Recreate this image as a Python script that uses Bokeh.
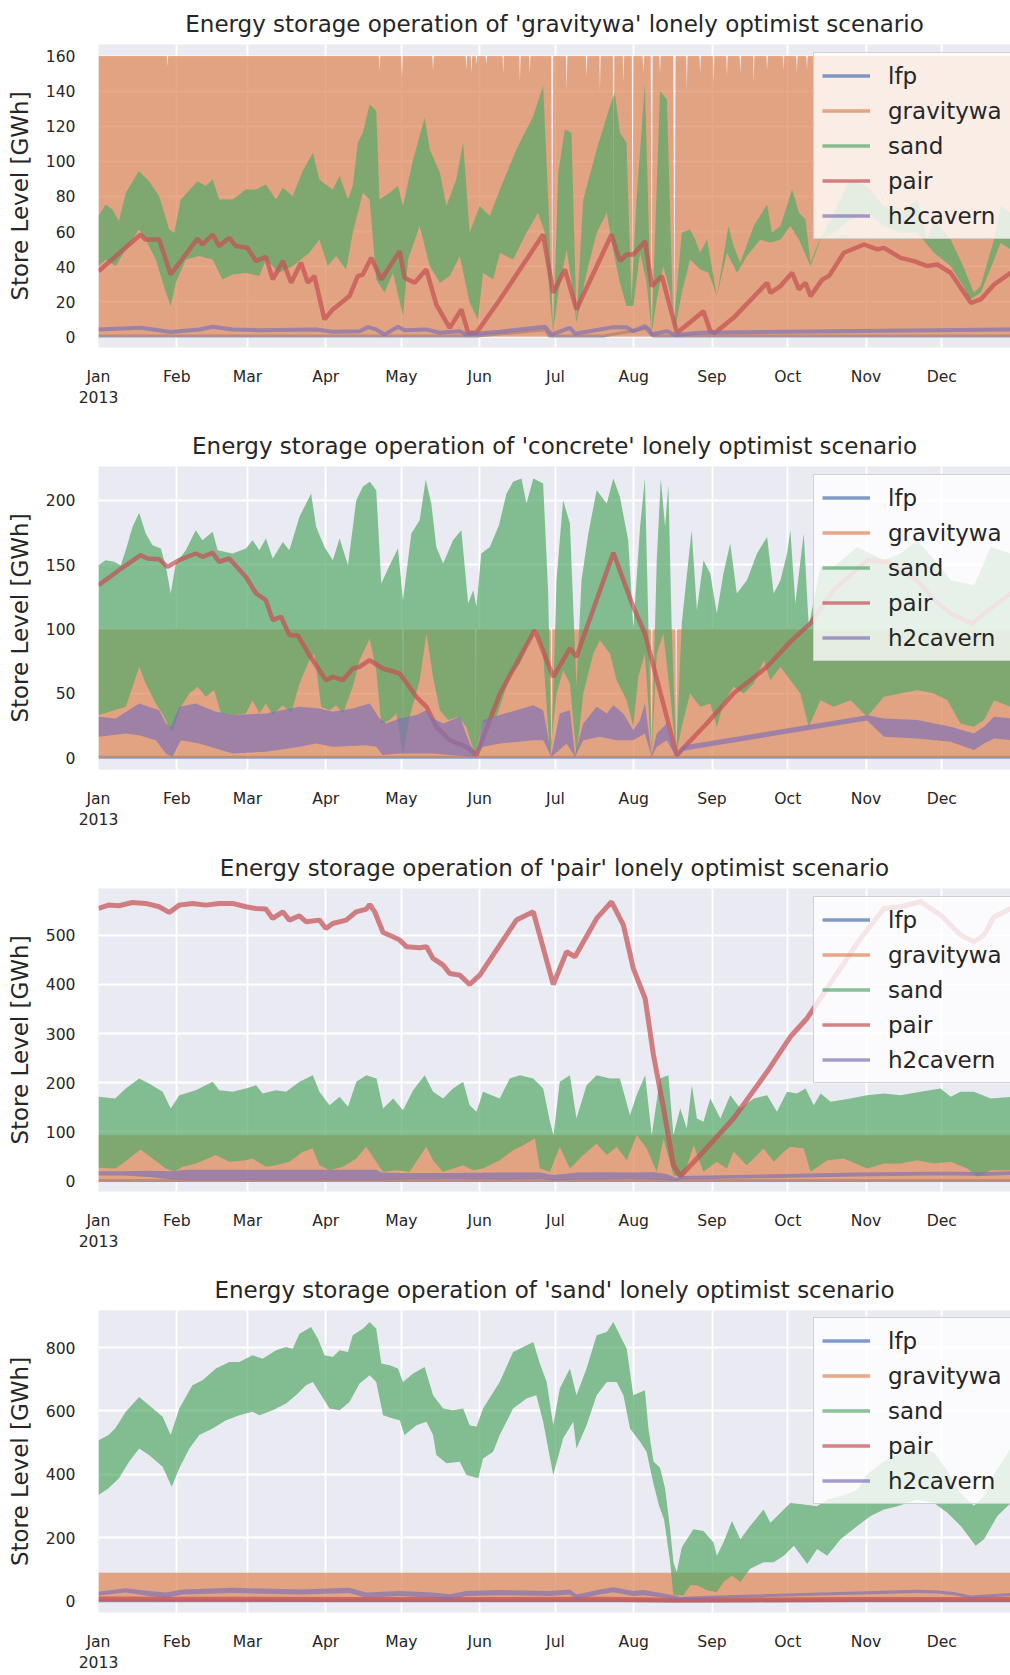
import numpy as np
import pandas as pd
from bokeh.plotting import figure
from bokeh.layouts import column
from bokeh.models import Range1d, FixedTicker, Legend, LegendItem
from bokeh.embed import file_html
from bokeh.resources import INLINE

# ---------------- data (days since 2013-01-01, values in GWh) ----------------
SERIES = ["lfp", "gravitywa", "sand", "pair", "h2cavern"]
COLORS = {"lfp": "#4C72B0", "gravitywa": "#DD8452", "sand": "#55A868",
          "pair": "#C44E52", "h2cavern": "#8172B3"}
MONTH_LABELS = ["Jan\n2013", "Feb", "Mar", "Apr", "May", "Jun", "Jul", "Aug",
                "Sep", "Oct", "Nov", "Dec"]
MONTH_STARTS = ["2013-01-01", "2013-02-01", "2013-03-01", "2013-04-01", "2013-05-01",
                "2013-06-01", "2013-07-01", "2013-08-01", "2013-09-01", "2013-10-01",
                "2013-11-01", "2013-12-01"]
TITLES = ["Energy storage operation of 'gravitywa' lonely optimist scenario",
          "Energy storage operation of 'concrete' lonely optimist scenario",
          "Energy storage operation of 'pair' lonely optimist scenario",
          "Energy storage operation of 'sand' lonely optimist scenario"]
YTICKS = [[0, 20, 40, 60, 80, 100, 120, 140, 160],
          [0, 50, 100, 150, 200],
          [0, 100, 200, 300, 400, 500],
          [0, 200, 400, 600, 800]]
YRANGES = [(-6.1, 166.6), (-9.1, 226.4), (-21.4, 595.0), (-36.8, 917.0)]
VIEW_DAYS = [0.0, 361.2]

# ---- panel 1: 'gravitywa'
lfp1_d = [0, 150, 177, 178.5, 200, 218, 219.5, 361.3]
lfp1_v = [0.5, 0.5, 4, 0.5, 0.5, 5, 0.5, 0.5]
gw1_hi_d = [0, 27.0, 27.3, 27.6, 111.0, 111.3, 111.6, 119.9, 120.2, 120.5, 132.2, 132.5, 132.8,
            145.4, 145.7, 146.0, 147.4, 147.7, 148.0, 149.4, 149.7, 150.0, 153.3, 153.6, 153.9,
            160.0, 160.3, 160.6, 166.6, 166.9, 167.2, 170.5, 170.8, 171.1, 179.3, 179.7, 180.1,
            185.1, 185.4, 185.7, 193.0, 193.3, 193.6, 198.3, 198.6, 198.9, 203.7, 204.0, 204.3,
            207.6, 207.9, 208.2, 211.2, 211.5, 211.8, 215.5, 215.8, 216.1, 218.7, 219.1, 219.5,
            222.1, 222.4, 222.7, 227.6, 228.1, 228.6, 232.7, 233.0, 233.3, 238.0, 238.3, 238.6,
            243.3, 243.6, 243.9, 248.6, 248.9, 249.2, 253.9, 254.2, 254.5, 259.2, 259.5, 259.8,
            264.5, 264.8, 265.1, 271.0, 271.3, 271.6, 276.3, 276.6, 276.9, 280.3, 280.6, 280.9, 361.3]
gw1_hi_v = [160, 160, 154, 160, 160, 151, 160, 160, 148, 160, 160, 151, 160,
            160, 152, 160, 160, 150, 160, 160, 155, 160, 160, 155, 160,
            160, 150, 160, 160, 145, 160, 160, 150, 160, 160, 5, 160,
            160, 140, 160, 160, 148, 160, 160, 140, 160, 160, 40, 160,
            160, 145, 160, 160, 25, 160, 160, 150, 160, 160, 3, 160,
            160, 150, 160, 160, 2, 160, 160, 140, 160, 160, 150, 160,
            160, 145, 160, 160, 148, 160, 160, 150, 160, 160, 145, 160,
            160, 152, 160, 160, 152, 160, 160, 150, 160, 160, 152, 160, 160]
gw1_lo_d = [0, 361.3]
gw1_lo_v = [0, 0]
sand1_hi_d = [0, 2.8, 5.5, 8.1, 10.8, 16, 20, 24, 28, 30, 32.6, 39.2, 42.5, 45.2, 47.8, 53.1, 58.4,
              62.4, 66.3, 70.3, 73, 76.9, 80.9, 84.9, 87.5, 90.8, 92.8, 95.5, 98.8, 100.7, 102.7,
              104.7, 107.4, 110, 111.3, 115.3, 118.6, 120.6, 124.6, 129.2, 131.2, 135.2, 137.8,
              141.7, 144.4, 147, 151, 155, 159, 165.5, 172.2, 176.1, 178.1, 180.1, 182.1, 184.7,
              187.3, 189.3, 192, 197.3, 202.6, 204.5, 206.5, 209.1, 211.1, 213.1, 216.4, 219.1,
              222.4, 225.1, 227.7, 231, 234.3, 236.3, 238.3, 241, 244.9, 249.5, 251.5, 254.2,
              259.5, 264.8, 266.7, 270.1, 274.7, 277.4, 280, 282, 284.6, 291.2, 297.8, 304.4,
              311, 317.6, 324.3, 328.2, 330.9, 337.5, 342.4, 346.7, 349.4, 354.7, 357.3, 361.3]
sand1_hi_v = [68.8, 75.4, 72.6, 65.9, 82.1, 94.5, 88.7, 80.2, 61.2, 59.3, 78.3, 88.7, 85.9, 89.7,
              78.3, 78.3, 84, 84, 86.8, 78.3, 85, 80.2, 94.5, 104.9, 89.7, 85.9, 84, 91.6, 78.3,
              85.9, 110.6, 116.3, 132.5, 128.7, 78.3, 82.1, 85.9, 74.5, 101.1, 124.9, 106.8, 93.5,
              74.5, 89.7, 110.6, 59.3, 74.5, 68.8, 84, 106.8, 125.8, 142.9, 78.3, 2.3, 93.5, 118.2,
              116.3, 9.9, 78.3, 106.8, 131.6, 139.1, 116.3, 110.6, 21.3, 78.3, 143.9, 2.3, 140.1,
              135.3, 4.2, 59.3, 61.2, 55.5, 47.9, 55.5, 23.2, 63.1, 51.7, 42.2, 63.1, 75.4, 59.3,
              63.1, 84, 70.7, 66.9, 42.2, 51.7, 70.7, 89.7, 85.9, 74.5, 70.7, 78.3, 55.5, 66.9,
              55.5, 40.3, 25.1, 28.9, 55.5, 74.5, 70.7]
sand1_lo_d = [0, 2.8, 6.8, 10.8, 16, 18.7, 22.7, 26.7, 28.6, 30.6, 34.6, 39.9, 45.2, 49.1, 53.1,
              58.4, 63.7, 66.3, 71.6, 76.9, 83.5, 87.5, 90.8, 94.1, 98.1, 100.7, 104.7, 107.4, 110,
              113.3, 116.6, 120.6, 122.6, 127.2, 131.2, 135.2, 139.1, 143.1, 147, 150.3, 152.3,
              156.3, 159, 164.2, 169.5, 174.1, 176.8, 178.8, 180.1, 182.1, 185.4, 187.4, 189.3,
              193.3, 197.3, 201.3, 204, 206.5, 209.1, 211.8, 214.5, 217.1, 219.1, 221.1, 223.7,
              226.4, 228.4, 231, 234.3, 238.3, 241.6, 244.9, 248.9, 252.9, 256.8, 262.1, 266.1,
              270.1, 274, 277.4, 282, 286, 291.2, 297.8, 304.4, 311, 317.6, 324.3, 330.9, 337.5,
              342.4, 345.1, 349.4, 354.7, 357.3, 361.3]
sand1_lo_v = [40.3, 44, 40.3, 49.8, 61.2, 55.5, 44, 25.1, 17.5, 30.8, 44, 46, 44, 32.7, 35.5,
              36.5, 34.6, 44, 36.5, 40.3, 47.9, 55.5, 40.3, 46, 38.4, 59.3, 82.1, 78.3, 32.7,
              25.1, 36.5, 11.8, 44, 63.1, 40.3, 30.8, 34.6, 46, 19.4, 9.9, 36.5, 32.7, 47.9, 44,
              59.3, 70.7, 59.3, 21.3, 2.3, 25.1, 49.8, 30.8, 8, 36.5, 59.3, 70.7, 47.9, 30.8,
              17.5, 17.5, 47.9, 30.8, 2.3, 21.3, 40.3, 25.1, 4.2, 25.1, 44, 38.4, 36.5, 23.2,
              47.9, 36.5, 46, 55.5, 53.6, 55.5, 63.1, 55.5, 40.3, 55.5, 59.3, 66.9, 70.7, 63.1,
              59.3, 59.3, 47.9, 40.3, 28.9, 21.3, 25.1, 44, 53.6, 49.8]
pair1_d = [0, 16.7, 18.5, 24, 28.6, 39.2, 41.2, 45.2, 47.8, 51.8, 54.4, 59, 62.4, 66.3, 69, 73,
           76.3, 80.2, 82.9, 85.5, 89.5, 92.8, 99.4, 102.7, 104.7, 108, 112, 119.3, 121.2, 125.2,
           129.8, 133.8, 139.1, 143.7, 146.4, 149.7, 159, 176.1, 180.1, 184.7, 189.3, 203.2,
           206.5, 209.1, 211.8, 216.5, 219.1, 223.1, 229.1, 235.7, 239.6, 242.3, 244.2, 251.5,
           264.8, 266.1, 270.1, 274.7, 277.4, 280, 282, 286.7, 289.3, 295.2, 303.2, 308.5, 311.1,
           317.7, 323, 328.3, 332.2, 337.5, 345.5, 349.4, 354.7, 361.3]
pair1_v = [37.4, 58.3, 55.5, 55.5, 35.5, 55.9, 52.6, 58.3, 51.7, 56.4, 51.7, 50.7, 43.1, 45.6,
           32.7, 43.1, 30.8, 42.2, 30.8, 34.6, 9.9, 15.6, 23.2, 34.6, 35.5, 45, 32.7, 48.8, 33.6,
           30.8, 38.4, 18.4, 5.1, 15.6, 2.3, 2.3, 21.3, 58.3, 25.1, 38.4, 15.6, 58.3, 43.1, 46.9,
           46.9, 54.5, 28.9, 34.6, 2.3, 9.9, 14.6, 3.2, 2.3, 10.8, 30.8, 25.1, 28.9, 36.5, 27.0,
           30.8, 23.2, 32.7, 34.6, 47.9, 52.6, 49.8, 50.7, 45, 43.1, 40.3, 41.2, 36.5, 19.4, 21.3,
           29.8, 36.5]
h2_1_d = [0, 16.7, 28.6, 39.9, 45.2, 53.1, 63.7, 86.2, 92.8, 103.4, 106.7, 110, 113.3, 118.6,
          121.2, 129.8, 135.1, 143, 145.7, 159, 176.8, 179.4, 186.7, 188.7, 204, 209.1, 211.8,
          216.5, 219.1, 225.1, 228.4, 238.3, 291.2, 361.3]
h2_1_v = [4.2, 5.1, 2.7, 4.2, 5.7, 4.2, 3.8, 4.2, 2.9, 3.2, 5.5, 4.2, 1.3, 5.7, 3.8, 4.2, 2.3,
          3.2, 1.3, 2.9, 5.7, 1.3, 5.1, 1.7, 5.5, 5.5, 3.2, 6.1, 1.3, 3.2, 1.0, 2.3, 3.2, 4.2]

# ---- panel 2: 'concrete'
lfp2_d = [0, 361.3]
lfp2_v = [0.5, 0.5]
gw2_hi_d = [0, 120.3, 120.6, 120.9, 149.1, 149.4, 149.7, 179.1, 179.4, 179.7, 218.8, 219.1,
            219.4, 228.5, 228.8, 229.1, 361.3]
gw2_hi_v = [100, 100, 2, 100, 100, 2, 100, 100, 2, 100, 100, 2, 100, 100, 2, 100, 100]
gw2_lo_d = [0, 361.3]
gw2_lo_v = [0, 0]
sand2_hi_d = [0, 2.8, 6.1, 8.8, 10.8, 13.5, 16.1, 18.7, 21.4, 24.7, 26.7, 28.6, 30.6, 34.6, 38.5,
              41.2, 45.2, 47.2, 53.1, 58.4, 61, 63.7, 66.3, 69, 73, 75.6, 79.6, 84.2, 86.2, 89.5,
              92.8, 95.5, 98.8, 102.1, 104.7, 107.4, 110, 112, 115.3, 118.6, 120.6, 123.9, 127.2,
              129.6, 131.8, 133.8, 136.5, 140.4, 143.7, 146.4, 148.4, 149.7, 151.6, 155, 158.6,
              161.6, 164.2, 167.5, 169.5, 172.2, 176.1, 178.1, 179.4, 181.4, 184, 186.7, 189.3,
              191.3, 194, 197.3, 201.3, 203.9, 206.5, 209.8, 211.8, 214.5, 216.4, 217.8, 219.1,
              221.1, 222.7, 224.4, 225.7, 227, 228.8, 231, 234.9, 237, 239.6, 242.3, 244.9, 247.5,
              250.2, 252.8, 256.8, 260.8, 264.8, 267.4, 270.1, 272.7, 274, 276, 279.3, 281.3,
              285.9, 291.2, 300.5, 311.1, 317.6, 324.3, 333.5, 337.5, 346.8, 353.4, 361.3]
sand2_hi_v = [149.7, 153.6, 152.3, 149.7, 161.4, 179.5, 190.4, 174.3, 165.2, 162.7, 148.4, 127.7,
              151, 161.4, 176.9, 169.1, 175.6, 161.4, 158.8, 162.7, 169.1, 161.4, 170.4, 154.9,
              167.8, 161.4, 187.3, 205.4, 179.5, 163.9, 153.6, 170.4, 149.7, 200.2, 210.6, 214.5,
              208, 135.5, 149.7, 162.7, 122.5, 174.3, 184.7, 216.3, 197.6, 163.9, 151, 169.1,
              176.9, 119.9, 130.3, 117.3, 158.8, 163.9, 180.8, 205.4, 214.5, 217, 197.6, 217,
              213.2, 127.7, 3.4, 138, 200.2, 182.1, 55.2, 138, 174.3, 208, 197.6, 217, 202.8,
              169.1, 101.8, 179.5, 217, 101.8, 3.4, 153.6, 217, 179.5, 211.9, 101.8, 2.1, 104.4,
              176.9, 114.7, 153.6, 143.2, 112.1, 143.2, 166.5, 127.7, 138, 158.8, 171.7, 127.7,
              138, 158.8, 176.9, 119.9, 174.3, 101.8, 148.4, 148.4, 163.9, 153.6, 158.8, 169.1,
              148.4, 138, 134.2, 163.9, 158.8]
sand2_lo_d = [0, 10.8, 13.5, 16.1, 18.7, 22.7, 25.3, 27.9, 29.3, 32.6, 36, 39.2, 42.5, 45.8, 48.5,
              53.1, 58.4, 61, 63.7, 66.3, 69, 73, 76.3, 79.6, 83.5, 85.5, 88.2, 91.5, 94.1, 96.8,
              100.7, 103.4, 107.4, 110, 112, 115.3, 118, 120.6, 123.2, 127.2, 129.9, 132.5, 135.2,
              138.5, 142.5, 145.7, 149.1, 152.3, 157.6, 162.9, 166.9, 170.8, 173.5, 176.1, 178.8,
              181.4, 184, 186.7, 189.3, 192, 196, 198.6, 202.6, 205.2, 209.2, 211.8, 213.8, 216.4,
              219.1, 221.1, 223.7, 226.4, 228.8, 231, 234.3, 238.3, 242.3, 244.9, 247.5, 251.5,
              255.5, 259.5, 263.5, 266.1, 270.1, 274, 278, 281.3, 285.9, 291.2, 297.8, 304.4,
              311.1, 317.6, 324.3, 330.9, 336.2, 341.4, 346.7, 350.7, 354.7, 361.3]
sand2_lo_v = [33.2, 39.6, 55.2, 70.7, 57.8, 42.2, 34.4, 24.1, 20, 39.6, 50, 55.2, 47.4, 52.6,
              34.4, 33.2, 34.4, 44.8, 34.4, 42.2, 33.2, 40.9, 34.4, 57.8, 75.9, 81.1, 39.6, 37,
              40.9, 34.4, 55.2, 75.9, 92.7, 68.1, 26.7, 29.3, 34.4, 2.1, 31.9, 60.3, 96.6, 62.9,
              37, 29.3, 31.9, 24.1, 2.1, 26.7, 31.9, 62.9, 73.3, 91.4, 100.5, 81.1, 2.1, 50, 68.1,
              57.8, 2.1, 50, 81.1, 91.4, 81.1, 60.3, 44.8, 24.1, 62.9, 81.1, 2.1, 81.1, 96.6, 50,
              2.1, 24.1, 50, 39.6, 42.2, 24.1, 42.2, 55.2, 50, 57.8, 75.9, 60.3, 70.7, 60.3, 50,
              24.1, 44.8, 39.6, 44.8, 31.9, 47.4, 50, 52.6, 50, 44.8, 26.7, 24.1, 29.3, 44.8, 39.6]
pair2_d = [0, 8.1, 16.7, 19.4, 24, 27.3, 31.9, 38.5, 41.2, 45.2, 47.8, 51.8, 58.4, 62.4, 66.3, 69,
           72.3, 75.6, 78.9, 83.5, 90.1, 92.8, 96.8, 100.7, 103.4, 107.4, 112.6, 119.3, 125.9,
           129.9, 133.8, 139.1, 145.7, 149.7, 159, 172.8, 180.1, 186.7, 189.3, 203.9, 211.8,
           216.4, 229, 240.9, 251.5, 264.8, 274, 281.9, 291.2, 304.4, 312.4, 324.3, 330.9, 337.5,
           346.1, 350.7, 361.3]
pair2_v = [134.2, 145.8, 157.5, 154.9, 154.4, 148.4, 153.6, 158.8, 156.2, 159.3, 152.3, 154.9,
           140.6, 127.7, 122.5, 107, 109.6, 95.3, 95.3, 79.8, 60.3, 62.9, 60.3, 69.4, 70.7, 75.9,
           69.4, 65.5, 47.4, 39.6, 24.1, 13.7, 8.5, 2.1, 50, 99.2, 62.9, 85, 78.5, 159.3, 117.3,
           96.6, 2.1, 26.7, 50, 70.7, 90.1, 104.4, 130.3, 153.6, 152.3, 138, 122.5, 112.1, 104.4,
           112.1, 127.7]
h2_2_hi_d = [0, 6.8, 16.1, 24, 26.7, 28.6, 32, 38.5, 46.5, 53.1, 66.3, 79.6, 87.5, 92.8, 100.7,
             107.4, 111.3, 114, 119.3, 125.9, 129.9, 132.5, 136.5, 143.1, 147, 149.7, 152.3, 159,
             165.5, 172.2, 176.1, 179.4, 182.7, 186.7, 188.7, 192, 197.3, 201.3, 203.9, 207.8,
             211.8, 214.5, 216.4, 219.1, 221.1, 225.1, 228.8, 231.6, 304.4, 311.1, 324.3, 337.5,
             346.7, 350.7, 354.7, 361.3]
h2_2_hi_v = [31.9, 30.6, 42.2, 37, 26.7, 24, 39.6, 42.2, 35.7, 33.2, 34.4, 39.6, 38.3, 35.7,
             38.3, 42.2, 30.6, 26.7, 30.6, 33.2, 37, 30.6, 26.7, 31.9, 11.1, 2.1, 29.3, 33.2, 37,
             40.9, 37, 2.1, 34.4, 37, 2.1, 26.7, 39.6, 34.4, 40.9, 34.4, 21.5, 29.3, 42.2, 2.1,
             18.9, 26.7, 0.8, 9.5, 33, 30.6, 29.3, 24.1, 18.9, 24.1, 31.9, 30.6]
h2_2_lo_d = [0, 10.8, 16.1, 22.7, 26.7, 29.3, 32.6, 39.9, 53.1, 66.3, 79.6, 86.2, 92.8, 106, 110,
             112.5, 119.3, 132.5, 139.1, 148.4, 152.3, 159, 172.2, 176.1, 179.4, 185.4, 188.7,
             192, 198.6, 205.2, 211.8, 216.4, 219.1, 221.1, 225.1, 228.8, 231.6, 304.4, 311.1,
             324.3, 337.5, 346.7, 350.7, 354.7, 361.3]
h2_2_lo_v = [16.3, 18.9, 17.6, 13.7, 3.4, 0.8, 13.7, 11.1, 3.4, 4.7, 8.5, 11.1, 8.5, 9.8, 8.5,
             2.1, 3.4, 3.4, 2.1, 0.8, 8.5, 11.1, 13.7, 13.7, 0.8, 11.1, 0.8, 13.7, 16.3, 13.7,
             13.7, 18.9, 0.8, 8.5, 13.7, 0.3, 5.5, 29, 16.3, 15, 12.4, 6, 11.1, 15, 13.7]

# ---- panel 3: 'pair'
lfp3_d = [0, 361.3]
lfp3_v = [1, 1]
gw3_hi_d = [0, 361.3]
gw3_hi_v = [93, 93]
gw3_lo_d = [0, 361.3]
gw3_lo_v = [0, 0]
sand3_hi_d = [0, 6.6, 10.8, 16.1, 20, 25.4, 28.6, 32, 38.5, 45.2, 47.8, 53.1, 58.4, 62.4, 65,
              70.3, 74.3, 79.6, 84.9, 87.5, 91.5, 95.5, 98.8, 102.1, 106.1, 110.1, 112.7, 116.7,
              120.6, 124.6, 129.2, 132.5, 136.5, 140.4, 144.4, 147, 149.7, 152.3, 158.9, 162.9,
              166.9, 172.2, 176.1, 178.8, 180.2, 182.7, 186.7, 189.3, 193.3, 197.3, 202.6, 206.5,
              210.5, 213.1, 216.5, 219.1, 222.4, 225.7, 227.7, 230.4, 233, 235, 237, 239.6, 242.3,
              246.3, 250.2, 254.2, 259.5, 264.8, 268.7, 272.7, 276.6, 280, 283.3, 286, 290, 297.8,
              304.4, 311.1, 317.6, 325.6, 333.5, 337.5, 341.4, 346.7, 353.4, 361.3]
sand3_hi_v = [171.2, 167.8, 188.2, 208.5, 198.3, 181.4, 147.5, 174.6, 184.8, 201.7, 184.8, 181.4,
              188.2, 195, 178, 184.8, 181.4, 201.7, 215.3, 181.4, 154.3, 171.2, 150.9, 201.7,
              215.3, 208.5, 147.5, 167.8, 144.1, 184.8, 215.3, 181.4, 167.8, 188.2, 201.7, 154.3,
              140.7, 181.4, 167.8, 208.5, 215.3, 208.5, 188.2, 120.4, 93.3, 201.7, 215.3, 127.2,
              195, 215.3, 208.5, 208.5, 133.9, 174.6, 215.3, 93.3, 208.5, 215.3, 93.3, 147.5,
              106.8, 195, 127.2, 120.4, 167.8, 127.2, 174.6, 147.5, 167.8, 174.6, 140.7, 181.4,
              178, 188.2, 154.3, 178, 161, 167.8, 174.6, 178, 174.6, 181.4, 188.2, 171.2, 181.4,
              181.4, 167.8, 171.2]
sand3_lo_d = [0, 6.8, 12.1, 16.7, 21.4, 26.7, 30, 33.3, 38.6, 46.5, 51.8, 58.4, 61, 66.3, 70.3,
              75.6, 80.9, 84.8, 87.5, 91.5, 96.8, 102.1, 106, 110, 112.6, 117.9, 123.2, 127.2,
              129.8, 132.5, 136.4, 140.4, 144.4, 148.3, 152.3, 158.9, 164.2, 168.2, 172.8, 174.8,
              178.8, 182.7, 186.7, 192, 197.3, 201.3, 205.2, 209.2, 213.2, 217.1, 221.1, 223.8,
              227.7, 231.7, 235.7, 239.6, 244.9, 248.9, 251.5, 256.8, 263.4, 267.4, 271.4, 274,
              279.3, 282, 288.6, 295.2, 304.4, 311.1, 317.6, 324.3, 330.9, 337.5, 344.1, 348.1,
              353.4, 361.3]
sand3_lo_v = [26.8, 25.4, 45.8, 64.1, 45.8, 25.4, 18.6, 28.8, 35.6, 52.6, 39, 42.4, 45.8, 28.8,
              32.2, 39, 59.3, 66.1, 32.2, 22, 28.8, 45.8, 69.5, 39, 18.6, 22, 18.6, 49.2, 69.5,
              42.4, 18.6, 25.4, 32.2, 22, 25.4, 42.4, 62.7, 72.9, 86.5, 25.4, 18.6, 69.5, 25.4,
              52.6, 76.3, 52.6, 69.5, 42.4, 93.3, 66.1, 18.6, 86.5, 11.9, 8.5, 72.9, 18.6, 39,
              25.4, 59.3, 32.2, 66.1, 39, 59.3, 69.5, 66.1, 18.6, 42.4, 45.8, 25.4, 35.6, 35.6,
              42.4, 35.6, 39, 25.4, 8.5, 22, 22]
pair3_d = [0, 4, 8.1, 13.4, 18.7, 24, 28, 32, 37.2, 42.5, 47.8, 53.1, 58.4, 62.4, 66.3, 69, 73,
           75.6, 79.6, 82.2, 87.5, 90.1, 92.8, 98.1, 102.1, 106.1, 107.4, 109.4, 112.7, 116.7,
           119.3, 122, 127.2, 129.9, 132.5, 136.5, 139.1, 143.1, 147, 151, 158.9, 165.5, 172.2,
           180.1, 185.4, 188.7, 197.3, 203.2, 207.9, 211.8, 216.5, 219.8, 223.8, 227.7, 230.4,
           238.3, 251.5, 264.8, 274, 280.6, 291.2, 301.8, 311.1, 317.6, 325.6, 333.5, 341.4,
           346.7, 350.7, 354.7, 361.3]
pair3_v = [554.4, 561.2, 559.9, 566.6, 564.6, 557.8, 546.3, 561.2, 564.6, 561.2, 564.6, 564.6,
           557.8, 554.4, 553.1, 534.1, 547.6, 530.7, 539.5, 527.3, 530.7, 513.7, 523.9, 530.7,
           547.6, 553.1, 562.5, 547.6, 505.6, 496.8, 490, 476.4, 474.4, 476.4, 452.7, 439.1,
           422.2, 418.8, 399.8, 418.8, 479.8, 530.7, 547.6, 399.8, 466.3, 456.1, 534.1, 568,
           520.5, 432.4, 371.3, 256, 147.5, 32.2, 9.8, 52.6, 127.2, 222.1, 293.3, 330.6, 412,
           493.4, 554.4, 557.8, 568, 540.9, 500.2, 486.6, 500.2, 537.5, 554.4]
h2_3_d = [0, 10, 20, 29, 35, 60, 90, 110, 112, 120, 140, 160, 175, 180, 190, 200, 210, 220, 225,
          229, 231, 300, 330, 340, 350, 361.3]
h2_3_hi_v = [20, 20, 21, 20, 23, 23, 23, 23, 17, 16, 16, 17, 17, 12, 17, 18, 17, 18, 14, 6, 10,
             17, 19, 19, 18, 20]
h2_3_lo_v = [11, 11, 8, 3, 2, 2, 2, 2, 2, 3, 4, 3, 4, 1, 3, 3, 4, 3, 2, 0.5, 3, 9, 11, 11, 10, 12]

# ---- panel 4: 'sand'
lfp4_d = [0, 361.3]
lfp4_v = [0.5, 0.5]
gw4_hi_d = [0, 361.3]
gw4_hi_v = [89, 89]
gw4_lo_d = [0, 361.3]
gw4_lo_v = [0, 0]
sand4_hi_d = [0, 4, 6.6, 10.8, 16.1, 20, 25.4, 28.6, 32, 37.2, 41.2, 46.5, 51.8, 55.8, 61, 65,
              70.3, 74.3, 76.9, 79.6, 84.2, 86.9, 89.5, 92.8, 95.5, 98.8, 100.7, 104.7, 107.4, 110,
              112, 115.3, 118.6, 120.6, 124.6, 129.2, 132.5, 136.5, 140.4, 144.4, 147, 149.7,
              152.3, 158.9, 164.2, 168.2, 172.2, 174.8, 177.5, 180.1, 182.7, 186.7, 189.3, 193.3,
              197.3, 201.3, 203.9, 206.5, 209.2, 211.8, 216.4, 217.8, 219.8, 222.4, 224.4, 226.4,
              227.7, 229, 231, 235.6, 239.6, 243.6, 244.9, 247.5, 250.9, 254.2, 258.1, 263.4,
              266.1, 271.4, 274, 279.4, 284.6, 288.6, 293.9, 300.5, 304.4, 311, 317.6, 324.3,
              330.9, 336.2, 341.4, 346.7, 350.7, 354.7, 361.3]
sand4_hi_v = [507.6, 523.4, 544.4, 597, 644.2, 617.9, 581.1, 523.4, 607.4, 681, 696.7, 733.5,
              754.5, 754.5, 775.5, 765, 791.3, 801.8, 796.5, 843.8, 864.8, 828, 775.5, 770.2,
              791.3, 786, 838.6, 859.6, 880.6, 859.6, 749.3, 744, 733.5, 691.5, 717.8, 738.7,
              649.4, 607.4, 602.1, 607.4, 554.8, 549.6, 607.4, 691.5, 786, 801.8, 817.6, 749.3,
              691.5, 554.8, 670.5, 733.5, 649.4, 733.5, 838.6, 849.1, 880.6, 838.6, 796.5, 649.4,
              665.2, 544.4, 440, 420, 355, 226, 121.9, 90.6, 168.8, 226, 220.8, 184.4, 142.7,
              184.4, 252.1, 194.8, 236.5, 288.5, 246.9, 288.5, 309.4, 304.2, 299, 319.8, 330.2,
              351, 400, 440, 465, 480, 470, 410, 340, 300, 330, 400, 481.6]
sand4_lo_d = [0, 4, 8.1, 12.1, 16.1, 20, 25.4, 29, 32, 36, 39.9, 45.2, 50.5, 55.8, 61, 63.7, 69,
              74.3, 78.2, 82.2, 84.9, 88.2, 91.5, 95.5, 99.4, 103.4, 107.4, 110, 112.7, 116.6,
              119.3, 121.2, 125.9, 129.9, 132.5, 133.8, 137.8, 143.1, 145.7, 150.4, 152.3, 156.3,
              158.9, 164.2, 169.5, 173.4, 176.1, 180.1, 184, 188, 189.3, 193.3, 197.3, 201.3,
              205.2, 207.9, 210.5, 214.5, 217.1, 219.5, 222, 224, 226.4, 227.7, 231.7, 234.4, 237,
              241, 244.9, 247.5, 250.9, 254.2, 258.1, 263.4, 267.4, 271.4, 275.4, 280.7, 284.6,
              288.6, 293.9, 300.5, 305.8, 311.1, 316.4, 324.3, 330.9, 336.2, 341.5, 347.4, 350.7,
              356, 361.3]
sand4_lo_v = [334.4, 355.3, 386.9, 439.4, 481.4, 460.4, 423.7, 360.6, 418.4, 481.4, 523.4, 544.4,
              570.7, 586.5, 597, 586.5, 602.2, 623.2, 649.4, 681, 691.5, 649.4, 607.4, 602.2,
              628.4, 686.2, 712.5, 691.5, 586.5, 576, 570.7, 523.4, 554.8, 565.3, 523.4, 460.4,
              434.2, 439.4, 397.4, 386.9, 449.9, 470.9, 523.4, 607.4, 639, 649.4, 565.3, 397.4,
              513, 565.3, 481.4, 554.8, 649.4, 691.5, 691.5, 649.4, 544.4, 502.4, 470, 380, 300,
              257, 121.9, 17.7, 17.7, 49, 49, 33.3, 28.1, 59.4, 80.2, 59.4, 101, 121.9, 121.9,
              142.7, 174, 116.7, 163.5, 142.7, 194.8, 236.5, 267.7, 288.5, 299, 319.8, 309.4,
              278.1, 236.5, 174, 194.8, 267.7, 309.4]
pair4_d = [0, 30, 60, 100, 150, 200, 228, 260, 300, 361.3]
pair4_v = [6, 5, 5, 4, 4, 5, 2, 3, 4, 4]
h2_4_d = [0, 10.8, 20, 26.7, 33.3, 53.1, 79.6, 99.4, 106, 119.3, 132.5, 139.1, 145.7, 159, 178.8,
          186.7, 189.3, 198.6, 203.9, 211.8, 215.8, 225, 230.4, 244.9, 324.3, 332.2, 338.8,
          345.4, 361.3]
h2_4_hi_v = [29, 40, 31, 26, 36, 41, 36, 41, 26, 31, 26, 21, 31, 34, 31, 36, 20, 36, 43, 31, 34,
             22, 12, 17, 35, 33, 28, 17, 25]
h2_4_lo_v = [17, 26, 15, 10, 20, 25, 20, 25, 10, 15, 10, 5, 15, 18, 15, 20, 5, 20, 27, 15, 18, 9,
             3, 8, 25, 23, 18, 8, 15]

# ---------------- helpers ----------------
BASE_MS = pd.Timestamp("2013-01-01").timestamp() * 1000.0
DAY_MS = 86400000.0


def ms(days):
    return BASE_MS + np.asarray(days, dtype=float) * DAY_MS


MONTH_MS = [pd.Timestamp(s).timestamp() * 1000.0 for s in MONTH_STARTS]
FONT = "DejaVu Sans"
TXT = "#262626"
ALPHA = 0.7
LEFT, TOP = 98, 44
FRAME_W, FRAME_H = 912, 303


def band(p, d_hi, v_hi, d_lo, v_lo, color):
    xs = np.concatenate([ms(d_hi), ms(d_lo)[::-1]])
    ys = np.concatenate([np.asarray(v_hi, float), np.asarray(v_lo, float)[::-1]])
    return p.patch(xs, ys, fill_color=color, fill_alpha=ALPHA, line_color=None)


def make_fig(i, bottom):
    p = figure(width=LEFT + FRAME_W, height=TOP + FRAME_H + bottom, x_axis_type="datetime",
               x_range=Range1d(ms(VIEW_DAYS[0]), ms(VIEW_DAYS[1])),
               y_range=Range1d(*YRANGES[i]),
               output_backend="svg", toolbar_location=None,
               min_border_left=LEFT, min_border_right=0, min_border_top=TOP,
               min_border_bottom=bottom,
               background_fill_color="#EAEAF2", border_fill_color="white",
               outline_line_color=None)
    p.title.text = TITLES[i]
    p.title.text_font = FONT
    p.title.text_font_size = "23px"
    p.title.text_font_style = "normal"
    p.title.text_color = TXT
    p.title.align = "center"
    p.title.standoff = 15

    p.xaxis.ticker = FixedTicker(ticks=MONTH_MS)
    p.xaxis.major_label_overrides = {t: lab for t, lab in zip(MONTH_MS, MONTH_LABELS)}
    p.yaxis.ticker = FixedTicker(ticks=YTICKS[i])
    for ax in (p.xaxis, p.yaxis):
        ax.axis_line_color = None
        ax.major_tick_line_color = None
        ax.minor_tick_line_color = None
        ax.major_tick_out = 0
        ax.major_tick_in = 0
        ax.minor_tick_out = 0
        ax.minor_tick_in = 0
        ax.major_label_text_font = FONT
        ax.major_label_text_font_size = "15.6px"
        ax.major_label_text_color = TXT
    p.xaxis.major_label_standoff = 20
    p.yaxis.major_label_standoff = 23
    p.yaxis.axis_label = "Store Level [GWh]"
    p.yaxis.axis_label_text_font = FONT
    p.yaxis.axis_label_text_font_size = "23px"
    p.yaxis.axis_label_text_font_style = "normal"
    p.yaxis.axis_label_text_color = TXT
    p.yaxis.axis_label_standoff = 10
    p.grid.grid_line_color = "white"
    p.grid.grid_line_width = 1.8
    return p


def add_legend(p, firsts):
    # one-point proxy lines (draw nothing in the plot) give the legend its line glyphs
    proxies = [p.line(x=ms([firsts[n][0]]), y=[firsts[n][1]], line_color=COLORS[n],
                      line_width=3.5, line_alpha=ALPHA) for n in SERIES]
    legend = Legend(items=[LegendItem(label=n, renderers=[r]) for n, r in zip(SERIES, proxies)],
                    location=(FRAME_W - 2 - 195, FRAME_H - 10 - 185), orientation="vertical",
                    label_text_font=FONT, label_text_font_size="23px", label_text_color=TXT,
                    glyph_width=48, glyph_height=29, label_height=29, label_standoff=18,
                    spacing=6, padding=8, margin=0,
                    border_line_color="#cccccc", border_line_width=1.2, border_line_alpha=0.9,
                    background_fill_color="white", background_fill_alpha=0.8)
    p.add_layout(legend)


def firsts_of(lfp, gw, sand, pair, h2):
    return {"lfp": lfp, "gravitywa": gw, "sand": sand, "pair": pair, "h2cavern": h2}


# ---------------- panels ----------------
p1 = make_fig(0, 75)
p1.line(ms(lfp1_d), lfp1_v, line_color=COLORS["lfp"], line_width=3, line_alpha=ALPHA)
band(p1, gw1_hi_d, gw1_hi_v, gw1_lo_d, gw1_lo_v, COLORS["gravitywa"])
band(p1, sand1_hi_d, sand1_hi_v, sand1_lo_d, sand1_lo_v, COLORS["sand"])
p1.line(ms(pair1_d), pair1_v, line_color=COLORS["pair"], line_width=4.5, line_alpha=ALPHA)
p1.line(ms(h2_1_d), h2_1_v, line_color=COLORS["h2cavern"], line_width=4, line_alpha=ALPHA)
add_legend(p1, firsts_of((lfp1_d[0], lfp1_v[0]), (gw1_hi_d[0], gw1_hi_v[0]),
                         (sand1_hi_d[0], sand1_hi_v[0]), (pair1_d[0], pair1_v[0]),
                         (h2_1_d[0], h2_1_v[0])))

p2 = make_fig(1, 75)
p2.line(ms(lfp2_d), lfp2_v, line_color=COLORS["lfp"], line_width=3, line_alpha=ALPHA)
band(p2, gw2_hi_d, gw2_hi_v, gw2_lo_d, gw2_lo_v, COLORS["gravitywa"])
band(p2, sand2_hi_d, sand2_hi_v, sand2_lo_d, sand2_lo_v, COLORS["sand"])
p2.line(ms(pair2_d), pair2_v, line_color=COLORS["pair"], line_width=4.5, line_alpha=ALPHA)
band(p2, h2_2_hi_d, h2_2_hi_v, h2_2_lo_d, h2_2_lo_v, COLORS["h2cavern"])
add_legend(p2, firsts_of((lfp2_d[0], lfp2_v[0]), (gw2_hi_d[0], gw2_hi_v[0]),
                         (sand2_hi_d[0], sand2_hi_v[0]), (pair2_d[0], pair2_v[0]),
                         (h2_2_hi_d[0], h2_2_hi_v[0])))

p3 = make_fig(2, 75)
p3.line(ms(lfp3_d), lfp3_v, line_color=COLORS["lfp"], line_width=3, line_alpha=ALPHA)
band(p3, gw3_hi_d, gw3_hi_v, gw3_lo_d, gw3_lo_v, COLORS["gravitywa"])
band(p3, sand3_hi_d, sand3_hi_v, sand3_lo_d, sand3_lo_v, COLORS["sand"])
p3.line(ms(pair3_d), pair3_v, line_color=COLORS["pair"], line_width=5, line_alpha=ALPHA)
band(p3, h2_3_d, h2_3_hi_v, h2_3_d, h2_3_lo_v, COLORS["h2cavern"])
add_legend(p3, firsts_of((lfp3_d[0], lfp3_v[0]), (gw3_hi_d[0], gw3_hi_v[0]),
                         (sand3_hi_d[0], sand3_hi_v[0]), (pair3_d[0], pair3_v[0]),
                         (h2_3_d[0], h2_3_hi_v[0])))

p4 = make_fig(3, 62)
p4.line(ms(lfp4_d), lfp4_v, line_color=COLORS["lfp"], line_width=3, line_alpha=ALPHA)
band(p4, gw4_hi_d, gw4_hi_v, gw4_lo_d, gw4_lo_v, COLORS["gravitywa"])
band(p4, sand4_hi_d, sand4_hi_v, sand4_lo_d, sand4_lo_v, COLORS["sand"])
p4.line(ms(pair4_d), pair4_v, line_color=COLORS["pair"], line_width=5, line_alpha=ALPHA)
band(p4, h2_4_d, h2_4_hi_v, h2_4_d, h2_4_lo_v, COLORS["h2cavern"])
add_legend(p4, firsts_of((lfp4_d[0], lfp4_v[0]), (gw4_hi_d[0], gw4_hi_v[0]),
                         (sand4_hi_d[0], sand4_hi_v[0]), (pair4_d[0], pair4_v[0]),
                         (h2_4_d[0], h2_4_hi_v[0])))

layout = column(p1, p2, p3, p4, spacing=0)
open("out.html", "w").write(file_html(layout, INLINE, title="Energy storage operation"))
